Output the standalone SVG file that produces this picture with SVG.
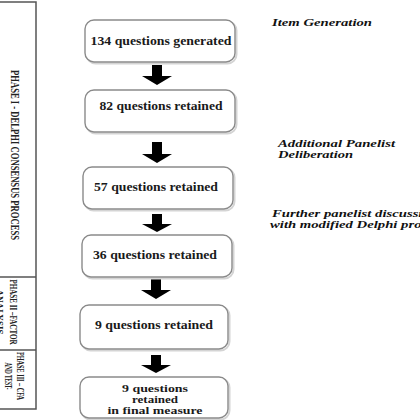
<svg xmlns="http://www.w3.org/2000/svg" width="420" height="420" viewBox="0 0 420 420">
<style>
.box{fill:#fff;stroke:#8a8a8a;stroke-width:1.4}
.shd{fill:none;stroke:#d4d4d4;stroke-width:2}
.bt{font-family:"Liberation Serif",serif;font-weight:bold;font-size:12px;fill:#1a1a1a;text-anchor:middle}
.bs{font-size:10.5px}
.lt{font-family:"Liberation Serif",serif;font-weight:bold;font-style:italic;font-size:10.5px;fill:#111}
.ph{font-family:"Liberation Serif",serif;font-weight:bold;font-size:11px;fill:#222;text-anchor:middle}
.frame{fill:none;stroke:#555;stroke-width:1.5}
.arr{fill:#000}
</style>
<rect width="420" height="420" fill="#fff"/>
<g id="phases">
<path class="frame" d="M0 2 H36 V409 H0 M0 277 H36 M0 350 H36"/>
<text class="ph" transform="translate(11,155) rotate(90)" textLength="170" lengthAdjust="spacingAndGlyphs" style="font-size:12px">PHASE I - DELPHI CONSENSUS PROCESS</text>
<text class="ph" transform="translate(10,312) rotate(90)" textLength="65" lengthAdjust="spacingAndGlyphs">PHASE II –FACTOR</text>
<text class="ph" transform="translate(-4,312) rotate(90)" textLength="45" lengthAdjust="spacingAndGlyphs">ANALYSIS</text>
<text class="ph" transform="translate(17,376) rotate(90)" textLength="48" lengthAdjust="spacingAndGlyphs">PHASE III – CFA</text>
<text class="ph" transform="translate(5,376) rotate(90)" textLength="27" lengthAdjust="spacingAndGlyphs">AND TEST-</text>
</g>
<g id="connectors">
<path class="arr" d="M152 65 H162 V76 H172 L157 85 L142 76 H152 Z"/>
<path class="arr" d="M152 142 H162 V154 H172 L157 163 L142 154 H152 Z"/>
<path class="arr" d="M152 214 H162 V224 H172 L157 232 L142 224 H152 Z"/>
<path class="arr" d="M151 279 H161 V290 H171 L156 299 L141 290 H151 Z"/>
<path class="arr" d="M151 355 H161 V365 H171 L156 373 L141 365 H151 Z"/>
</g>
<g id="n1">
<rect class="shd" x="86.5" y="21.5" width="150" height="42" rx="9"/>
<rect class="box" x="85" y="20" width="150" height="42" rx="9"/>
<text class="bt" x="161" y="45" textLength="141" lengthAdjust="spacingAndGlyphs">134 questions generated</text>
</g>
<g id="n2">
<rect class="shd" x="86.5" y="91.5" width="150" height="42" rx="9"/>
<rect class="box" x="85" y="90" width="150" height="42" rx="9"/>
<text class="bt" x="161" y="110" textLength="123" lengthAdjust="spacingAndGlyphs">82 questions retained</text>
</g>
<g id="n3">
<rect class="shd" x="84.5" y="168.5" width="150" height="42" rx="9"/>
<rect class="box" x="83" y="167" width="150" height="42" rx="9"/>
<text class="bt" x="156" y="191" textLength="124" lengthAdjust="spacingAndGlyphs">57 questions retained</text>
</g>
<g id="n4">
<rect class="shd" x="83.5" y="236.5" width="150" height="42" rx="9"/>
<rect class="box" x="82" y="235" width="150" height="42" rx="9"/>
<text class="bt" x="155" y="259" textLength="124" lengthAdjust="spacingAndGlyphs">36 questions retained</text>
</g>
<g id="n5">
<rect class="shd" x="81.5" y="306.5" width="148" height="44" rx="9"/>
<rect class="box" x="80" y="305" width="148" height="44" rx="9"/>
<text class="bt" x="154" y="329" textLength="118" lengthAdjust="spacingAndGlyphs">9 questions retained</text>
</g>
<g id="n6">
<rect class="shd" x="81.5" y="378.5" width="148" height="41" rx="9"/>
<rect class="box" x="80" y="377" width="148" height="41" rx="9"/>
<text class="bt bs" x="155" y="391.5" textLength="66" lengthAdjust="spacingAndGlyphs">9 questions</text>
<text class="bt bs" x="155" y="402.5" textLength="46" lengthAdjust="spacingAndGlyphs">retained</text>
<text class="bt bs" x="155" y="413.5" textLength="95" lengthAdjust="spacingAndGlyphs">in final measure</text>
</g>
<g id="labels">
<text class="lt" x="272" y="26" textLength="100" lengthAdjust="spacingAndGlyphs">Item Generation</text>
<text class="lt" x="278" y="147" textLength="117" lengthAdjust="spacingAndGlyphs">Additional Panelist</text>
<text class="lt" x="278" y="158" textLength="75" lengthAdjust="spacingAndGlyphs">Deliberation</text>
<text class="lt" x="272" y="217" textLength="166" lengthAdjust="spacingAndGlyphs">Further panelist discussion</text>
<text class="lt" x="270" y="228" textLength="176" lengthAdjust="spacingAndGlyphs">with modified Delphi process</text>
</g>
</svg>
